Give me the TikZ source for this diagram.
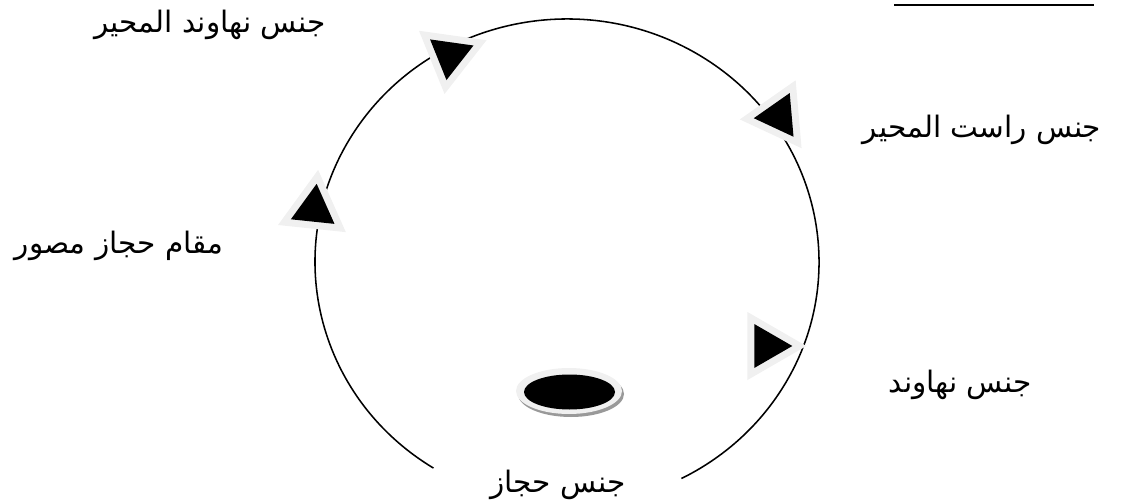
\documentclass[tikz,border=0pt]{standalone}
\usepackage{fontspec}
\newfontfamily\arabicfont[Script=Arabic]{DejaVu Sans}
\TeXXeTstate=1
\usetikzlibrary{shapes.geometric}
\tikzset{
  pad/.style={regular polygon, regular polygon sides=3, inner sep=0pt,
    fill=black!6, minimum size=56pt, shape border rotate=#1},
  tip/.style={regular polygon, regular polygon sides=3, inner sep=0pt,
    fill=black, minimum size=36pt, shape border rotate=#1},
  lbl/.style={font=\arabicfont\fontsize{21}{25}\selectfont, inner sep=0pt}
}
\begin{document}
\begin{tikzpicture}[x=0.025cm, y=-0.025cm]
  \useasboundingbox (0,0) rectangle (1128,504);
  \coordinate (O) at (567,262);
  \draw[line width=1.1pt] ([shift={(122:252 and 243)}]O) arc[start angle=122, end angle=423, x radius=252, y radius=243];
  \draw[line width=1pt] (894,5) -- (1094,5);
  \node[pad=172] (p1) at (450,55) {}; \node[tip=172] (t1) at (p1) {};
  \node[pad=95] (p2) at (779,116) {}; \node[tip=95] (t2) at (p2) {};
  \node[pad=-6] (p3) at (314,209) {}; \node[tip=-6] (t3) at (p3) {};
  \node[pad=-90] (p4) at (767,346) {}; \node[tip=-90] (t4) at (p4) {};
  \fill[black!40] (571,394) ellipse[x radius=53, y radius=23];
  \fill[black!6] (569,391) ellipse[x radius=53, y radius=23];
  \fill[black] (569.5,392) ellipse[x radius=45.5, y radius=17.5];
  \node[lbl] (nahawand-muhayyar) at (210,25) {\beginR جنس نهاوند المحير\endR};
  \node[lbl] (rast-muhayyar) at (982,130) {\beginR جنس راست المحير\endR};
  \node[lbl] (hijaz-musawwar) at (119,246) {\beginR مقام حجاز مصور\endR};
  \node[lbl] (nahawand) at (960,385) {\beginR جنس نهاوند\endR};
  \node[lbl] (hijaz) at (558,485) {\beginR جنس حجاز\endR};
\end{tikzpicture}
\end{document}
